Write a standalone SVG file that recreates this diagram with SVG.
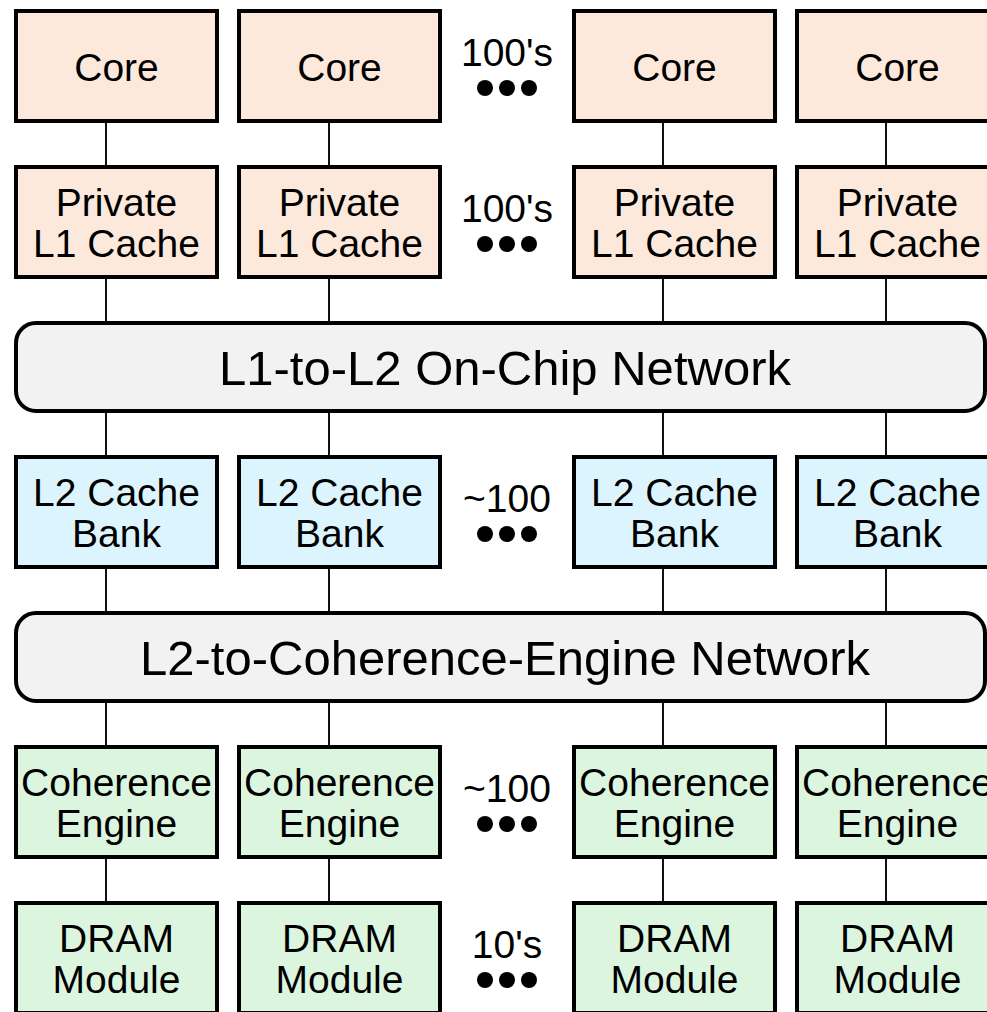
<svg xmlns="http://www.w3.org/2000/svg" width="987" height="1012" viewBox="0 0 987 1012">
  <style>
    .box { stroke: #000; stroke-width: 4; }
    .core { fill: #fde9dc; }
    .l2 { fill: #dcf4fd; }
    .mem { fill: #dcf5de; }
    .net { fill: #f2f2f2; stroke: #000; stroke-width: 4; }
    .lbl { font-family: "Liberation Sans", Arial, Helvetica, sans-serif; font-size: 39px; fill: #000; text-anchor: middle; }
    .netlbl { font-family: "Liberation Sans", Arial, Helvetica, sans-serif; font-size: 49px; fill: #000; text-anchor: middle; }
    .wire { stroke: #111; stroke-width: 2; fill: none; }
    .dot { fill: #000; }
  </style>

  <!-- vertical links between layers -->
  <g id="connectors">
    <path class="wire" d="M106 121V167M329 121V167M663 121V167M886 121V167"/>
    <path class="wire" d="M106 277V323M329 277V323M663 277V323M886 277V323"/>
    <path class="wire" d="M106 411V457M329 411V457M663 411V457M886 411V457"/>
    <path class="wire" d="M106 567V613M329 567V613M663 567V613M886 567V613"/>
    <path class="wire" d="M106 701V747M329 701V747M663 701V747M886 701V747"/>
    <path class="wire" d="M106 857V903M329 857V903M663 857V903M886 857V903"/>
  </g>

  <!-- cores -->
  <g id="core-1"><rect class="box core" x="16" y="11" width="201" height="110"/><text class="lbl" x="116.5" y="81">Core</text></g>
  <g id="core-2"><rect class="box core" x="239" y="11" width="201" height="110"/><text class="lbl" x="339.5" y="81">Core</text></g>
  <g id="core-more"><text class="lbl" x="507" y="66">100's</text><circle class="dot" cx="485" cy="88" r="8"/><circle class="dot" cx="507" cy="88" r="8"/><circle class="dot" cx="529" cy="88" r="8"/></g>
  <g id="core-3"><rect class="box core" x="574" y="11" width="201" height="110"/><text class="lbl" x="674.5" y="81">Core</text></g>
  <g id="core-4"><rect class="box core" x="797" y="11" width="201" height="110"/><text class="lbl" x="897.5" y="81">Core</text></g>

  <!-- private L1 caches -->
  <g id="l1-1"><rect class="box core" x="16" y="167" width="201" height="110"/><text class="lbl" x="116.5" y="216">Private</text><text class="lbl" x="116.5" y="257">L1 Cache</text></g>
  <g id="l1-2"><rect class="box core" x="239" y="167" width="201" height="110"/><text class="lbl" x="339.5" y="216">Private</text><text class="lbl" x="339.5" y="257">L1 Cache</text></g>
  <g id="l1-more"><text class="lbl" x="507" y="222">100's</text><circle class="dot" cx="485" cy="244" r="8"/><circle class="dot" cx="507" cy="244" r="8"/><circle class="dot" cx="529" cy="244" r="8"/></g>
  <g id="l1-3"><rect class="box core" x="574" y="167" width="201" height="110"/><text class="lbl" x="674.5" y="216">Private</text><text class="lbl" x="674.5" y="257">L1 Cache</text></g>
  <g id="l1-4"><rect class="box core" x="797" y="167" width="201" height="110"/><text class="lbl" x="897.5" y="216">Private</text><text class="lbl" x="897.5" y="257">L1 Cache</text></g>

  <!-- L1 to L2 network -->
  <g id="net-l1-l2"><rect class="net" x="16" y="323" width="969" height="88" rx="20"/><text class="netlbl" x="505" y="385">L1-to-L2 On-Chip Network</text></g>

  <!-- L2 banks -->
  <g id="l2-1"><rect class="box l2" x="16" y="457" width="201" height="110"/><text class="lbl" x="116.5" y="506">L2 Cache</text><text class="lbl" x="116.5" y="547">Bank</text></g>
  <g id="l2-2"><rect class="box l2" x="239" y="457" width="201" height="110"/><text class="lbl" x="339.5" y="506">L2 Cache</text><text class="lbl" x="339.5" y="547">Bank</text></g>
  <g id="l2-more"><text class="lbl" x="507" y="512">~100</text><circle class="dot" cx="485" cy="534" r="8"/><circle class="dot" cx="507" cy="534" r="8"/><circle class="dot" cx="529" cy="534" r="8"/></g>
  <g id="l2-3"><rect class="box l2" x="574" y="457" width="201" height="110"/><text class="lbl" x="674.5" y="506">L2 Cache</text><text class="lbl" x="674.5" y="547">Bank</text></g>
  <g id="l2-4"><rect class="box l2" x="797" y="457" width="201" height="110"/><text class="lbl" x="897.5" y="506">L2 Cache</text><text class="lbl" x="897.5" y="547">Bank</text></g>

  <!-- L2 to coherence engine network -->
  <g id="net-l2-ce"><rect class="net" x="16" y="613" width="969" height="88" rx="20"/><text class="netlbl" x="505" y="675">L2-to-Coherence-Engine Network</text></g>

  <!-- coherence engines -->
  <g id="ce-1"><rect class="box mem" x="16" y="747" width="201" height="110"/><text class="lbl" x="116.5" y="796">Coherence</text><text class="lbl" x="116.5" y="837">Engine</text></g>
  <g id="ce-2"><rect class="box mem" x="239" y="747" width="201" height="110"/><text class="lbl" x="339.5" y="796">Coherence</text><text class="lbl" x="339.5" y="837">Engine</text></g>
  <g id="ce-more"><text class="lbl" x="507" y="802">~100</text><circle class="dot" cx="485" cy="824" r="8"/><circle class="dot" cx="507" cy="824" r="8"/><circle class="dot" cx="529" cy="824" r="8"/></g>
  <g id="ce-3"><rect class="box mem" x="574" y="747" width="201" height="110"/><text class="lbl" x="674.5" y="796">Coherence</text><text class="lbl" x="674.5" y="837">Engine</text></g>
  <g id="ce-4"><rect class="box mem" x="797" y="747" width="201" height="110"/><text class="lbl" x="897.5" y="796">Coherence</text><text class="lbl" x="897.5" y="837">Engine</text></g>

  <!-- DRAM modules -->
  <g id="dram-1"><rect class="box mem" x="16" y="903" width="201" height="110"/><text class="lbl" x="116.5" y="952">DRAM</text><text class="lbl" x="116.5" y="993">Module</text></g>
  <g id="dram-2"><rect class="box mem" x="239" y="903" width="201" height="110"/><text class="lbl" x="339.5" y="952">DRAM</text><text class="lbl" x="339.5" y="993">Module</text></g>
  <g id="dram-more"><text class="lbl" x="507" y="958">10's</text><circle class="dot" cx="485" cy="980" r="8"/><circle class="dot" cx="507" cy="980" r="8"/><circle class="dot" cx="529" cy="980" r="8"/></g>
  <g id="dram-3"><rect class="box mem" x="574" y="903" width="201" height="110"/><text class="lbl" x="674.5" y="952">DRAM</text><text class="lbl" x="674.5" y="993">Module</text></g>
  <g id="dram-4"><rect class="box mem" x="797" y="903" width="201" height="110"/><text class="lbl" x="897.5" y="952">DRAM</text><text class="lbl" x="897.5" y="993">Module</text></g>
</svg>
